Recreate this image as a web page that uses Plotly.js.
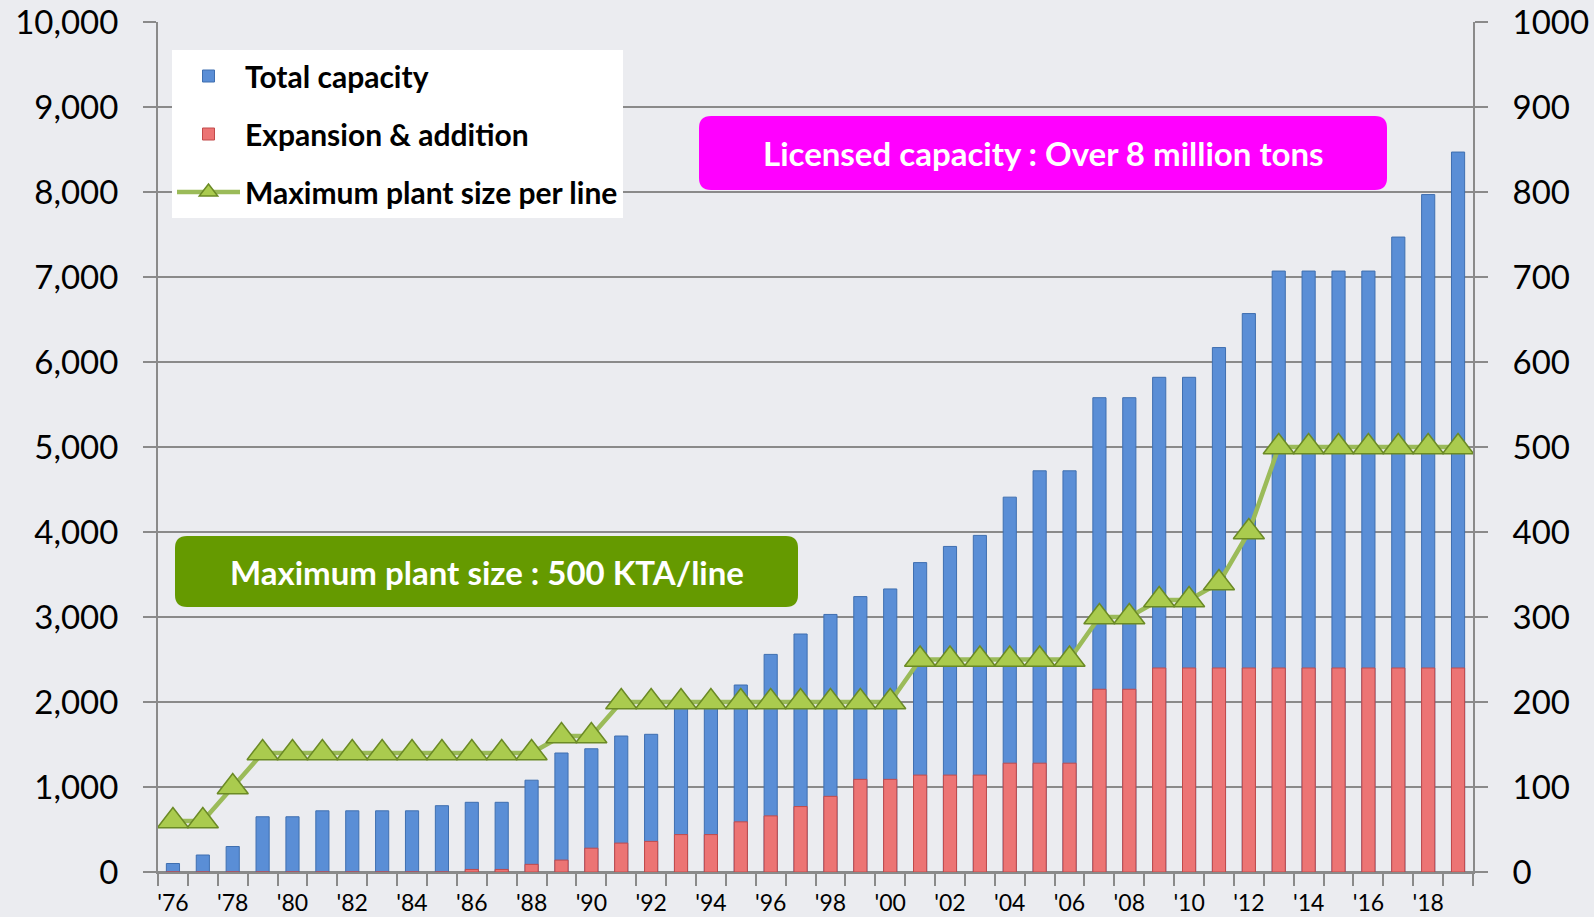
<!DOCTYPE html>
<html>
<head>
<meta charset="utf-8">
<script src="https://cdn.plot.ly/plotly-3.0.1.min.js"></script>
<style>html,body{margin:0;padding:0;background:#EBECF0;}#chart{width:1594px;height:917px;}</style>
</head>
<body>
<div id="chart"></div>
<script>
// ---- data ----
var years = [1976,1977,1978,1979,1980,1981,1982,1983,1984,1985,1986,1987,1988,1989,1990,1991,1992,1993,1994,1995,1996,1997,1998,1999,2000,2001,2002,2003,2004,2005,2006,2007,2008,2009,2010,2011,2012,2013,2014,2015,2016,2017,2018,2019];
var totalCapacity = [100,200,300,650,650,720,720,720,720,780,820,820,1080,1400,1450,1600,1620,2000,2000,2200,2560,2800,3030,3240,3330,3640,3830,3960,4410,4720,4720,5580,5580,5820,5820,6170,6570,7070,7070,7070,7070,7470,7970,8470];
var expansion = [0,0,0,0,0,0,0,0,0,0,30,30,90,140,280,340,360,440,440,590,660,770,890,1090,1090,1140,1140,1140,1280,1280,1280,2150,2150,2400,2400,2400,2400,2400,2400,2400,2400,2400,2400,2400];
var maxPlantSize = [60,60,100,140,140,140,140,140,140,140,140,140,140,160,160,200,200,200,200,200,200,200,200,200,200,250,250,250,250,250,250,300,300,320,320,340,400,500,500,500,500,500,500,500];
var tickYears = [1976,1978,1980,1982,1984,1986,1988,1990,1992,1994,1996,1998,2000,2002,2004,2006,2008,2010,2012,2014,2016,2018];
var tickLabels = ["'76","'78","'80","'82","'84","'86","'88","'90","'92","'94","'96","'98","'00","'02","'04","'06","'08","'10","'12","'14","'16","'18"];
var seriesNames = ["Total capacity", "Expansion & addition", "Maximum plant size per line"];
var boxTexts = ["Maximum plant size : 500 KTA/line", "Licensed capacity : Over 8 million tons"];

// ---- layout geometry ----
var W = 1594, H = 917;
var M = {l:158, r:121, t:22, b:45};
var PW = W - M.l - M.r, PH = H - M.t - M.b;
function px(x){ return (x - M.l) / PW; }
function py(y){ return (H - M.b - y) / PH; }
function roundRect(x0, y0, x1, y1, r){
  var rx = r / PW, ry = r / PH;
  var L = px(x0), R = px(x1), T = py(y0), B = py(y1);
  return 'M' + (L+rx) + ',' + T + ' L' + (R-rx) + ',' + T + ' Q' + R + ',' + T + ' ' + R + ',' + (T-ry) +
         ' L' + R + ',' + (B+ry) + ' Q' + R + ',' + B + ' ' + (R-rx) + ',' + B +
         ' L' + (L+rx) + ',' + B + ' Q' + L + ',' + B + ' ' + L + ',' + (B+ry) +
         ' L' + L + ',' + (T-ry) + ' Q' + L + ',' + T + ' ' + (L+rx) + ',' + T + ' Z';
}

var FONT = 'Lato, "Open Sans", sans-serif';
var GRID = '#8a8a8a';

var traces = [
  {
    type: 'bar', x: years, y: totalCapacity, name: seriesNames[0], width: 0.44,
    marker: {color: '#5A8ED6', line: {color: '#3F6FB0', width: 1}},
    legendgroup: 'a', hoverinfo: 'x+y'
  },
  {
    type: 'bar', x: years, y: expansion, name: seriesNames[1], width: 0.44,
    marker: {color: '#EC7474', line: {color: '#C24A4A', width: 1}},
    legendgroup: 'b', hoverinfo: 'x+y'
  },
  {
    type: 'scatter', mode: 'lines+markers', x: years, y: maxPlantSize, yaxis: 'y2', name: seriesNames[2],
    line: {color: '#9BBB59', width: 4.5},
    marker: {symbol: 'triangle-up', size: 27, color: '#AACB4E', line: {color: '#6B8A25', width: 1.5}},
    legendgroup: 'c', cliponaxis: false
  }
];

var layout = {
  width: W, height: H,
  margin: {l: M.l, r: M.r, t: M.t, b: M.b, pad: 0},
  paper_bgcolor: '#EBECF0', plot_bgcolor: '#EBECF0',
  barmode: 'overlay',
  showlegend: true,
  legend: {
    x: px(172), y: py(50), xanchor: 'left', yanchor: 'top',
    bgcolor: '#FFFFFF', borderwidth: 0,
    font: {family: FONT, size: 30, color: '#000', weight: 700},
    traceorder: 'grouped', tracegroupgap: 16, itemwidth: 63
  },
  xaxis: {
    type: 'linear', range: [1975.5, 2019.5],
    tickvals: tickYears, ticktext: tickLabels,
    ticks: 'outside', ticklen: 9, tickcolor: 'rgba(0,0,0,0)',
    minor: {ticks: 'outside', tick0: 1975.5, dtick: 1, ticklen: 12, tickwidth: 2, tickcolor: GRID, showgrid: false},
    showgrid: false, zeroline: false, showline: true, linecolor: GRID, linewidth: 2,
    tickfont: {family: FONT, size: 23, color: '#000'}
  },
  yaxis: {
    range: [0, 10000], dtick: 1000, tickformat: ',d',
    ticks: 'outside', ticklen: 13, tickwidth: 2, tickcolor: GRID,
    gridcolor: GRID, gridwidth: 2, zeroline: true, zerolinecolor: GRID, zerolinewidth: 2,
    showline: true, linecolor: GRID, linewidth: 2,
    ticklabelstandoff: 18,
    tickfont: {family: FONT, size: 33, color: '#000'}
  },
  yaxis2: {
    range: [0, 1000], dtick: 100, overlaying: 'y', side: 'right',
    ticks: 'outside', ticklen: 13, tickwidth: 2, tickcolor: GRID,
    showgrid: false, zeroline: false, showline: true, linecolor: GRID, linewidth: 2,
    ticklabelstandoff: 18,
    tickfont: {family: FONT, size: 33, color: '#000'}
  },
  shapes: [
    {type: 'path', xref: 'paper', yref: 'paper', path: roundRect(175, 536, 798, 607, 12), fillcolor: '#659A00', line: {width: 0}, layer: 'above'},
    {type: 'path', xref: 'paper', yref: 'paper', path: roundRect(699, 116, 1387, 190, 12), fillcolor: '#FF00FF', line: {width: 0}, layer: 'above'}
  ],
  annotations: [
    {xref: 'paper', yref: 'paper', x: px((175+798)/2), y: py((536+607)/2), xanchor: 'center', yanchor: 'middle', showarrow: false,
     text: boxTexts[0], font: {family: FONT, size: 33, color: '#FFFFFF', weight: 700}},
    {xref: 'paper', yref: 'paper', x: px((699+1387)/2), y: py((116+190)/2), xanchor: 'center', yanchor: 'middle', showarrow: false,
     text: boxTexts[1], font: {family: FONT, size: 33, color: '#FFFFFF', weight: 700}}
  ]
};

Plotly.newPlot('chart', traces, layout, {displayModeBar: false, staticPlot: true});
</script>
</body>
</html>
